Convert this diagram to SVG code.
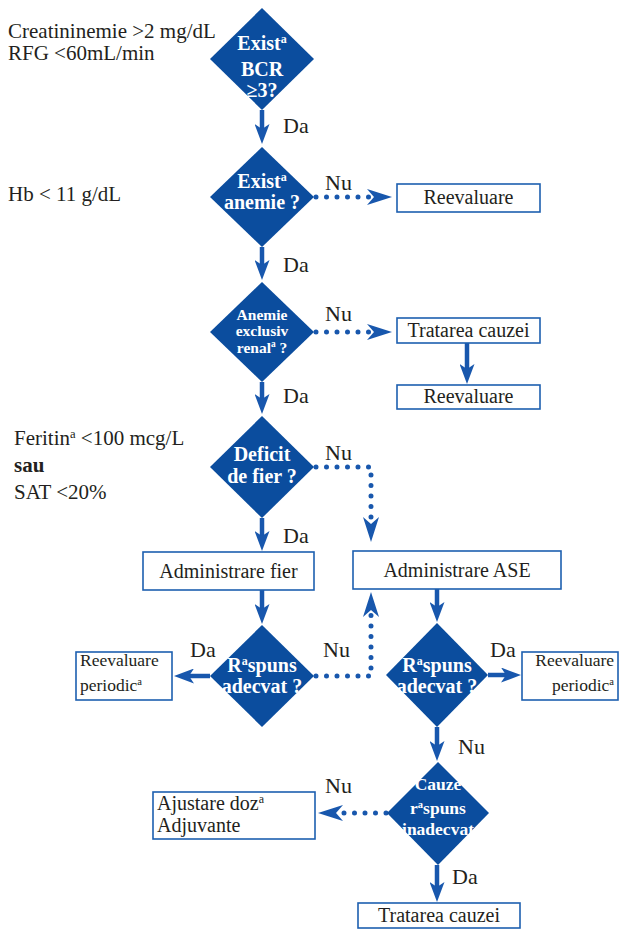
<svg xmlns="http://www.w3.org/2000/svg" width="619" height="930" viewBox="0 0 619 930">
<style>
.bg{fill:#fff}
.dia{fill:#0b4d9e}
.box{fill:#fff;stroke:#1d5fb0;stroke-width:1.6}
.t{font-family:"Liberation Serif","Times New Roman",serif;fill:#231f20}
.lt{font-size:21px}
.bt{font-size:20px}
.st{font-size:17.5px}
.lb{font-size:22px}
.dt{font-family:"Liberation Serif","Times New Roman",serif;font-weight:bold;fill:#fff;text-anchor:middle}
.sup{font-size:60%}
.solid{fill:none;stroke:#1857ad;stroke-width:4.5}
.dot{fill:none;stroke:#1857ad;stroke-width:5;stroke-linecap:round;stroke-dasharray:0 10.5}
</style>
<defs>
<marker id="ah" markerUnits="userSpaceOnUse" markerWidth="20" markerHeight="15" refX="5" refY="7.5" orient="auto">
<path d="M0,0 L20,7.5 L0,15 L5,7.5 z" fill="#1857ad"/>
</marker>
<marker id="ahd" markerUnits="userSpaceOnUse" markerWidth="25" markerHeight="16" refX="7" refY="8" orient="auto">
<path d="M0,0 L25,8 L0,16 L7,8 z" fill="#1857ad"/>
</marker>
</defs>
<rect class="bg" x="0" y="0" width="619" height="930"/>

<g id="notes">
<text class="t lt" x="8" y="38">Creatininemie &gt;2 mg/dL</text>
<text class="t lt" x="8" y="60">RFG &lt;60mL/min</text>
<text class="t lt" x="8" y="201">Hb &lt; 11 g/dL</text>
<text class="t lt" x="14" y="445">Feritin<tspan class="sup" dy="-7">a</tspan><tspan dy="7"> &lt;100 mcg/L</tspan></text>
<text class="t lt" x="14" y="472" font-weight="bold">sau</text>
<text class="t lt" x="14" y="499">SAT &lt;20%</text>
</g>

<g id="connectors">
<path class="solid" d="M262,110 V129" marker-end="url(#ah)"/>
<path class="solid" d="M262,247 V265" marker-end="url(#ah)"/>
<path class="solid" d="M262,382 V399" marker-end="url(#ah)"/>
<path class="solid" d="M262,518 V536" marker-end="url(#ah)"/>
<path class="solid" d="M262,590 V609" marker-end="url(#ah)"/>
<path class="solid" d="M467,343 V369" marker-end="url(#ah)"/>
<path class="solid" d="M437,589 V607" marker-end="url(#ah)"/>
<path class="solid" d="M210,676 H189" marker-end="url(#ah)"/>
<path class="solid" d="M488,675 H506" marker-end="url(#ah)"/>
<path class="solid" d="M437,727 V746" marker-end="url(#ah)"/>
<path class="solid" d="M437,865 V887" marker-end="url(#ah)"/>
<path class="dot" d="M316,197 H374" marker-end="url(#ahd)"/>
<path class="dot" d="M316,332 H374" marker-end="url(#ahd)"/>
<path class="dot" d="M316,467 H371 V524" marker-end="url(#ahd)"/>
<path class="dot" d="M316,676 H371 V610" marker-end="url(#ahd)"/>
<path class="dot" d="M386,813 H336" marker-end="url(#ahd)"/>
<text class="t lb" x="283" y="133">Da</text>
<text class="t lb" x="283" y="272">Da</text>
<text class="t lb" x="283" y="403">Da</text>
<text class="t lb" x="283" y="543">Da</text>
<text class="t lb" x="325" y="190">Nu</text>
<text class="t lb" x="325" y="321">Nu</text>
<text class="t lb" x="325" y="460">Nu</text>
<text class="t lb" x="190" y="657">Da</text>
<text class="t lb" x="323" y="657">Nu</text>
<text class="t lb" x="490" y="657">Da</text>
<text class="t lb" x="458" y="754">Nu</text>
<text class="t lb" x="325" y="793">Nu</text>
<text class="t lb" x="452" y="884">Da</text>
</g>

<g id="d1">
<polygon class="dia" points="262,8 314,59 262,110 210,59"/>
<text class="dt" font-size="20"><tspan x="262" y="50">Exist<tspan class="sup" dy="-7">a</tspan></tspan><tspan x="262" y="76">BCR</tspan><tspan x="262" y="97">≥3?</tspan></text>
</g>
<g id="d2">
<polygon class="dia" points="262,147 314,197 262,247 210,197"/>
<text class="dt" font-size="20"><tspan x="262" y="188">Exist<tspan class="sup" dy="-7">a</tspan></tspan><tspan x="262" y="209">anemie ?</tspan></text>
</g>
<g id="d3">
<polygon class="dia" points="262,282 314,332 262,382 210,332"/>
<text class="dt" font-size="15.5"><tspan x="262" y="320">Anemie</tspan><tspan x="262" y="336">exclusiv</tspan><tspan x="262" y="353">renal<tspan class="sup" dy="-6">a</tspan><tspan dy="6"> ?</tspan></tspan></text>
</g>
<g id="d4">
<polygon class="dia" points="262,416 314,467 262,518 210,467"/>
<text class="dt" font-size="20"><tspan x="262" y="461">Deficit</tspan><tspan x="262" y="483">de fier ?</tspan></text>
</g>
<g id="d5">
<polygon class="dia" points="262,625 314,676 262,727 210,676"/>
<text class="dt" font-size="20"><tspan x="262" y="672">R<tspan class="sup" dy="-7">a</tspan><tspan dy="7">spuns</tspan></tspan><tspan x="262" y="693">adecvat ?</tspan></text>
</g>
<g id="d6">
<polygon class="dia" points="437,623 488,675 437,727 386,675"/>
<text class="dt" font-size="20"><tspan x="437" y="672">R<tspan class="sup" dy="-7">a</tspan><tspan dy="7">spuns</tspan></tspan><tspan x="437" y="693">adecvat ?</tspan></text>
</g>
<g id="d7">
<polygon class="dia" points="438,762 489,813 438,865 387,813"/>
<text class="dt" font-size="17.5"><tspan x="438" y="790">Cauze</tspan><tspan x="438" y="814">r<tspan class="sup" dy="-6">a</tspan><tspan dy="6">spuns</tspan></tspan><tspan x="438" y="835">inadecvat</tspan></text>
</g>

<g id="b-reeval1">
<rect class="box" x="397" y="184" width="143" height="28"/>
<text class="t bt" x="468.5" y="204" text-anchor="middle">Reevaluare</text>
</g>
<g id="b-trat1">
<rect class="box" x="397" y="318" width="143" height="25"/>
<text class="t bt" x="468.5" y="337" text-anchor="middle">Tratarea cauzei</text>
</g>
<g id="b-reeval2">
<rect class="box" x="397" y="385" width="143" height="24"/>
<text class="t bt" x="468.5" y="403" text-anchor="middle">Reevaluare</text>
</g>
<g id="b-fier">
<rect class="box" x="143" y="552" width="171" height="38"/>
<text class="t bt" x="228.5" y="578" text-anchor="middle" font-size="21">Administrare fier</text>
</g>
<g id="b-ase">
<rect class="box" x="353" y="551" width="208" height="38"/>
<text class="t bt" x="457" y="577" text-anchor="middle">Administrare ASE</text>
</g>
<g id="b-per1">
<rect class="box" x="76" y="652" width="96" height="48"/>
<text class="t st"><tspan x="80" y="666">Reevaluare</tspan><tspan x="80" y="691">periodic<tspan class="sup" dy="-6">a</tspan></tspan></text>
</g>
<g id="b-per2">
<rect class="box" x="522" y="652" width="96" height="48"/>
<text class="t st" text-anchor="end"><tspan x="614" y="666">Reevaluare</tspan><tspan x="614" y="691">periodic<tspan class="sup" dy="-6">a</tspan></tspan></text>
</g>
<g id="b-ajust">
<rect class="box" x="153" y="792" width="162" height="47"/>
<text class="t bt" font-size="21"><tspan x="157" y="810">Ajustare doz<tspan class="sup" dy="-7">a</tspan></tspan><tspan x="157" y="832">Adjuvante</tspan></text>
</g>
<g id="b-trat2">
<rect class="box" x="358" y="903" width="162" height="25"/>
<text class="t bt" x="439" y="922" text-anchor="middle">Tratarea cauzei</text>
</g>
</svg>
